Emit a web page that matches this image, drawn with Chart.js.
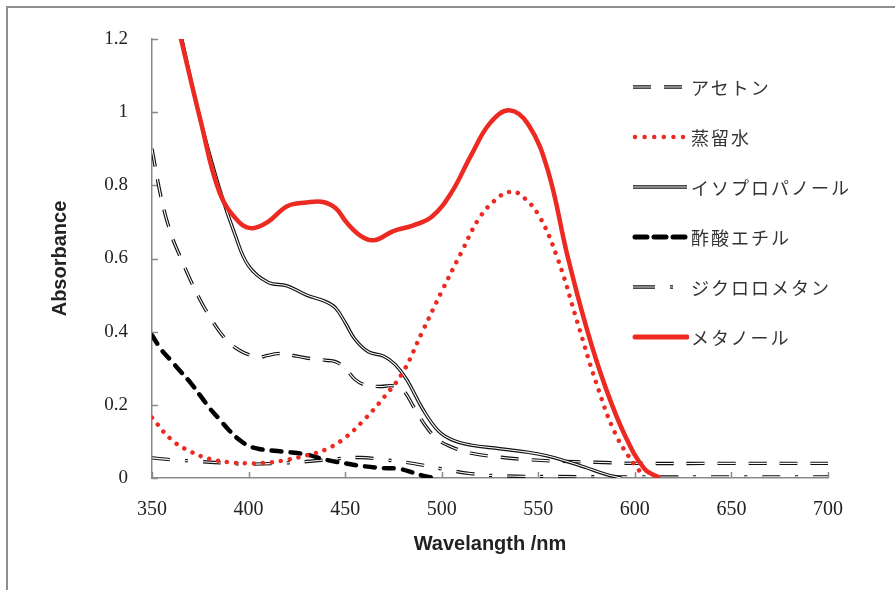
<!DOCTYPE html>
<html>
<head>
<meta charset="utf-8">
<script src="https://cdn.jsdelivr.net/npm/chart.js@4.4.1/dist/chart.umd.min.js"></script>
<style>
    body { margin: 0; background: #fff; }
    #wrap { position: relative; width: 895px; height: 590px; overflow: hidden; }
    #frame { position: absolute; left: 6px; top: 6px; width: 1000px; height: 1000px; border-left: 2px solid #8e8e8e; border-top: 2px solid #8e8e8e; }
    #chart { position: absolute; left: 0; top: 0; }
    #legend { position: absolute; left: 631px; top: 62px; font-family: "Noto Sans CJK JP", sans-serif; font-size: 18px; color: #333; letter-spacing: 2px; }
    #legend .row { height: 50px; display: flex; align-items: center; }
    #legend svg { width: 58px; height: 14px; margin-right: 2px; }
</style>
</head>
<body>
<div id="wrap">
    <div id="frame"></div>
    <canvas id="chart" width="895" height="590"></canvas>
    <div id="legend"></div>
</div>
<script>
const xTicks = [350, 400, 450, 500, 550, 600, 650, 700];
const yTicks = [0, 0.2, 0.4, 0.6, 0.8, 1, 1.2];

const acetoneNm  = [350, 355, 360, 365, 370, 375, 380, 385, 390, 395, 400, 405, 410, 415, 420, 430, 440, 445, 450, 455, 460, 468, 475, 480, 486, 492, 498, 505, 515, 530, 545, 560, 580, 600, 650, 700];
const acetoneAbs = [0.9, 0.76, 0.665, 0.6, 0.54, 0.486, 0.44, 0.4, 0.37, 0.35, 0.337, 0.33, 0.335, 0.34, 0.338, 0.328, 0.322, 0.318, 0.3, 0.27, 0.255, 0.25, 0.252, 0.24, 0.19, 0.14, 0.105, 0.085, 0.068, 0.057, 0.05, 0.046, 0.043, 0.04, 0.04, 0.04];

const waterNm  = [350, 360, 370, 380, 390, 400, 410, 420, 430, 440, 450, 460, 470, 480, 490, 500, 510, 520, 530, 535, 540, 550, 560, 570, 580, 590, 600, 605];
const waterAbs = [0.165, 0.105, 0.072, 0.052, 0.043, 0.04, 0.042, 0.05, 0.062, 0.078, 0.11, 0.16, 0.22, 0.29, 0.4, 0.51, 0.615, 0.715, 0.77, 0.782, 0.777, 0.72, 0.6, 0.43, 0.26, 0.12, 0.035, 0.005];

const ipaNm  = [360, 365, 375, 385, 393, 400, 410, 420, 430, 440, 445, 450, 455, 462, 470, 476, 482, 490, 498, 505, 515, 530, 545, 555, 565, 575, 585, 593];
const ipaAbs = [1.33, 1.21, 0.98, 0.79, 0.665, 0.58, 0.535, 0.525, 0.5, 0.482, 0.465, 0.425, 0.38, 0.345, 0.333, 0.31, 0.268, 0.19, 0.13, 0.105, 0.09, 0.08, 0.07, 0.06, 0.045, 0.028, 0.01, 0];

const ethylNm  = [350, 355, 360, 365, 370, 375, 380, 385, 390, 395, 400, 405, 410, 420, 430, 440, 450, 460, 470, 478, 485, 492, 497];
const ethylAbs = [0.39, 0.35, 0.32, 0.29, 0.26, 0.225, 0.19, 0.16, 0.13, 0.105, 0.088, 0.08, 0.076, 0.071, 0.064, 0.05, 0.04, 0.032, 0.027, 0.025, 0.015, 0.004, 0];

const dcmNm  = [350, 360, 375, 390, 400, 415, 430, 445, 458, 470, 485, 500, 515, 530, 560, 600, 650, 700];
const dcmAbs = [0.055, 0.05, 0.045, 0.04, 0.038, 0.04, 0.045, 0.052, 0.056, 0.05, 0.04, 0.025, 0.012, 0.006, 0.004, 0.003, 0.003, 0.003];

const methanolNm  = [360, 365, 375, 385, 395, 402, 410, 420, 430, 438, 445, 451, 458, 465, 475, 485, 495, 505, 515, 525, 535, 545, 555, 565, 575, 585, 595, 605, 613];
const methanolAbs = [1.31, 1.2, 0.98, 0.78, 0.7, 0.683, 0.7, 0.743, 0.753, 0.755, 0.738, 0.697, 0.662, 0.65, 0.675, 0.69, 0.715, 0.78, 0.88, 0.97, 1.005, 0.965, 0.84, 0.61, 0.41, 0.245, 0.115, 0.025, 0];

const red = '#ec2a22';
const pts = (xs, ys) => xs.map((x, i) => ({ x: x, y: ys[i] }));

// double lines: a wide black stroke with a thin white stroke on top
function doubleLine(label, xs, ys, dash, order) {
    return [
        { label: label, data: pts(xs, ys), borderColor: '#111', borderWidth: 3.4, borderDash: dash, order: order },
        { label: label + '_inner', data: pts(xs, ys), borderColor: '#fff', borderWidth: 1.1, borderDash: dash, order: order - 1 }
    ];
}

const datasets = [
    ...doubleLine('アセトン', acetoneNm, acetoneAbs, [18, 13], 20),
    ...doubleLine('ジクロロメタン', dcmNm, dcmAbs, [18, 15, 3, 15], 18),
    { label: '酢酸エチル', data: pts(ethylNm, ethylAbs), borderColor: '#000', borderWidth: 4.5, borderDash: [10, 9], borderCapStyle: 'round', order: 16 },
    ...doubleLine('イソプロパノール', ipaNm, ipaAbs, [], 14),
    { label: '蒸留水', data: pts(waterNm, waterAbs), borderColor: red, borderWidth: 4.5, borderDash: [0.01, 9], borderCapStyle: 'round', order: 6 },
    { label: 'メタノール', data: pts(methanolNm, methanolAbs), borderColor: red, borderWidth: 4.5, order: 4 }
];

const axisColor = '#8a8a8a';
const innerTicks = {
    id: 'innerTicks',
    beforeDatasetsDraw(chart) {
        const ctx = chart.ctx;
        const xs = chart.scales.x, ys = chart.scales.y;
        ctx.save();
        ctx.strokeStyle = axisColor;
        ctx.lineWidth = 1.5;
        ctx.beginPath();
        yTicks.forEach(v => {
            const py = Math.round(ys.getPixelForValue(v)) + 0.5;
            ctx.moveTo(xs.left, py);
            ctx.lineTo(xs.left + 6, py);
        });
        xTicks.forEach(v => {
            const px = Math.round(xs.getPixelForValue(v)) + 0.5;
            ctx.moveTo(px, ys.bottom);
            ctx.lineTo(px, ys.bottom - 6);
        });
        ctx.stroke();
        ctx.restore();
    }
};

const ctx = document.getElementById('chart').getContext('2d');
new Chart(ctx, {
    type: 'line',
    data: { datasets: datasets },
    options: {
        responsive: false,
        animation: false,
        events: [],
        layout: { padding: { top: 39, right: 67, left: 0, bottom: 0 } },
        elements: {
            point: { radius: 0 },
            line: { tension: 0.4, fill: false }
        },
        plugins: { legend: { display: false }, tooltip: { enabled: false } },
        scales: {
            x: {
                type: 'linear', min: 350, max: 700,
                afterFit: s => { s.height = 112; },
                afterBuildTicks: s => { s.ticks = xTicks.map(v => ({ value: v })); },
                grid: { display: false, drawTicks: false },
                border: { display: true, color: axisColor, width: 1.5 },
                ticks: { padding: 20, color: '#222', font: { family: 'Liberation Serif', size: 20 } },
                title: { display: true, text: 'Wavelangth /nm', color: '#222', padding: { top: 0, bottom: 34 }, font: { family: 'Liberation Sans', size: 20, weight: 'bold' } }
            },
            y: {
                min: 0, max: 1.2,
                afterFit: s => { s.width = 152; },
                afterBuildTicks: s => { s.ticks = yTicks.map(v => ({ value: v })); },
                grid: { display: false, drawTicks: false },
                border: { display: true, color: axisColor, width: 1.5 },
                ticks: { padding: 24, color: '#222', font: { family: 'Liberation Serif', size: 19 }, callback: v => String(+v.toFixed(1)) },
                title: { display: true, text: 'Absorbance', color: '#222', padding: { top: 48, bottom: 0 }, font: { family: 'Liberation Sans', size: 20, weight: 'bold' } }
            }
        }
    },
    plugins: [innerTicks]
});

// legend with the same line styles as the plot
const legendItems = [
    { text: 'アセトン', kind: 'double', dash: '18 13' },
    { text: '蒸留水', kind: 'dots' },
    { text: 'イソプロパノール', kind: 'double', dash: '' },
    { text: '酢酸エチル', kind: 'thick' },
    { text: 'ジクロロメタン', kind: 'double', dash: '22 15 3 40' },
    { text: 'メタノール', kind: 'red' }
];
const legend = document.getElementById('legend');
legendItems.forEach(item => {
    let svg = '';
    if (item.kind === 'double') {
        svg = `<line x1="2" y1="7" x2="56" y2="7" stroke="#111" stroke-width="3.4" stroke-dasharray="${item.dash}"/>` +
              `<line x1="2" y1="7" x2="56" y2="7" stroke="#fff" stroke-width="1.1" stroke-dasharray="${item.dash}"/>`;
    } else if (item.kind === 'dots') {
        svg = `<line x1="4" y1="7" x2="56" y2="7" stroke="${red}" stroke-width="4.5" stroke-linecap="round" stroke-dasharray="0.01 9.6"/>`;
    } else if (item.kind === 'thick') {
        svg = `<line x1="4" y1="7" x2="56" y2="7" stroke="#000" stroke-width="5" stroke-linecap="round" stroke-dasharray="12 7"/>`;
    } else {
        svg = `<line x1="4" y1="7" x2="56" y2="7" stroke="${red}" stroke-width="5" stroke-linecap="round"/>`;
    }
    const row = document.createElement('div');
    row.className = 'row';
    row.innerHTML = `<svg viewBox="0 0 58 14">${svg}</svg><span>${item.text}</span>`;
    legend.appendChild(row);
});
</script>
</body>
</html>
